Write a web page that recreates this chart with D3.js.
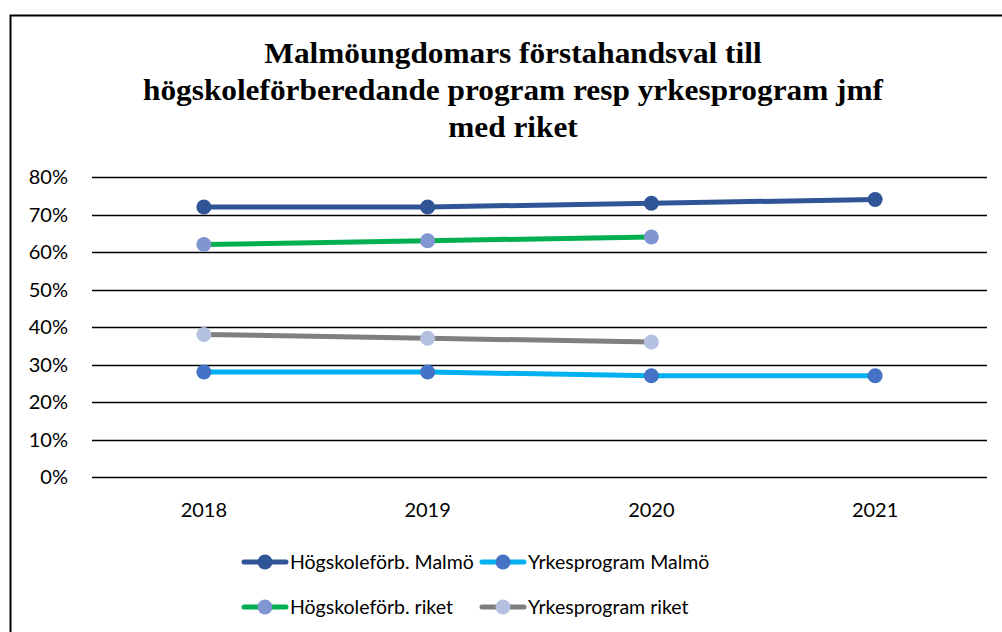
<!DOCTYPE html>
<html>
<head>
<meta charset="utf-8">
<script src="https://cdn.jsdelivr.net/npm/d3@7"></script>
<style>
  body { margin: 0; background: #fff; }
  svg text { fill: #000; }
  .tick-label { font-family: Lato, "Liberation Sans", sans-serif; font-size: 20px; }
  .legend-label { font-family: Lato, "Liberation Sans", sans-serif; font-size: 19.5px; }
  .chart-title { font-family: "Liberation Serif", "DejaVu Serif", serif; font-weight: bold; font-size: 29px; }
</style>
</head>
<body>
<svg id="chart" width="1002" height="632"></svg>
<script>
// data
const years = ['2018', '2019', '2020', '2021']
const hogskoleMalmo = [0.72, 0.72, 0.73, 0.74]
const yrkesMalmo = [0.28, 0.28, 0.27, 0.27]
const hogskoleRiket = [0.62, 0.63, 0.64]
const yrkesRiket = [0.38, 0.37, 0.36]
const yTicks = [0, 0.1, 0.2, 0.3, 0.4, 0.5, 0.6, 0.7, 0.8]
const titleLines = [
  'Malmöungdomars förstahandsval till',
  'högskoleförberedande program resp yrkesprogram jmf',
  'med riket'
]

const series = [
  { name: 'Högskoleförb. Malmö', values: hogskoleMalmo, line: '#2F5597', dot: '#2F5597' },
  { name: 'Yrkesprogram Malmö', values: yrkesMalmo, line: '#00B0F0', dot: '#4472C4' },
  { name: 'Högskoleförb. riket', values: hogskoleRiket, line: '#00B050', dot: '#7F96D0' },
  { name: 'Yrkesprogram riket', values: yrkesRiket, line: '#7F7F7F', dot: '#B4C1E1' }
]

const svg = d3.select('#chart')

// outer frame (continues past the picture edge)
svg.append('path')
  .attr('d', 'M10.5,640 L10.5,15.5 L1010,15.5')
  .attr('fill', 'none')
  .attr('stroke', '#000')
  .attr('stroke-width', 2)

// title - the original font (Garamond) runs wider, so stretch to its width
const title = svg.append('g').attr('class', 'chart-title')
const titleTexts = titleLines.map((t, i) => title.append('text')
  .attr('x', 513)
  .attr('y', 63 + i * 37)
  .attr('text-anchor', 'middle')
  .text(t))
const stretch = 740 / titleTexts[1].node().getComputedTextLength()
titleTexts.forEach(t => {
  t.attr('textLength', t.node().getComputedTextLength() * stretch)
    .attr('lengthAdjust', 'spacingAndGlyphs')
})

const x = d3.scaleBand().domain(years).range([92, 987])
const y = d3.scaleLinear().domain([0, 0.8]).range([477, 177])

// gridlines
svg.append('g')
  .selectAll('line')
  .data(yTicks)
  .join('line')
  .attr('x1', 92)
  .attr('x2', 987)
  .attr('y1', d => Math.round(y(d)) + 0.5)
  .attr('y2', d => Math.round(y(d)) + 0.5)
  .attr('stroke', '#000')
  .attr('stroke-width', 1.7)

// y labels
svg.append('g')
  .selectAll('text')
  .data(yTicks)
  .join('text')
  .attr('class', 'tick-label')
  .attr('x', 68)
  .attr('y', d => y(d))
  .attr('dy', '0.35em')
  .attr('text-anchor', 'end')
  .text(d3.format('.0%'))

// x labels
svg.append('g')
  .selectAll('text')
  .data(years)
  .join('text')
  .attr('class', 'tick-label')
  .attr('x', d => x(d) + x.bandwidth() / 2)
  .attr('y', 517)
  .attr('text-anchor', 'middle')
  .text(d => d)

const line = d3.line()
  .x((d, i) => x(years[i]) + x.bandwidth() / 2)
  .y(d => y(d))

const plot = svg.append('g')
series.forEach(s => {
  plot.append('path')
    .datum(s.values)
    .attr('d', line)
    .attr('fill', 'none')
    .attr('stroke', s.line)
    .attr('stroke-width', 5)
    .attr('stroke-linecap', 'round')
})
series.forEach(s => {
  plot.selectAll(null)
    .data(s.values)
    .join('circle')
    .attr('cx', (d, i) => x(years[i]) + x.bandwidth() / 2)
    .attr('cy', d => y(d))
    .attr('r', 7.5)
    .attr('fill', s.dot)
})

// legend
const legendPos = [[244, 562], [482, 562], [244, 607], [482, 607]]
const legend = svg.append('g')
series.forEach((s, i) => {
  const g = legend.append('g').attr('transform', `translate(${legendPos[i][0]},${legendPos[i][1]})`)
  g.append('line')
    .attr('x1', 0).attr('x2', 42)
    .attr('stroke', s.line)
    .attr('stroke-width', 5)
    .attr('stroke-linecap', 'round')
  g.append('circle')
    .attr('cx', 21)
    .attr('r', 7.5)
    .attr('fill', s.dot)
  g.append('text')
    .attr('class', 'legend-label')
    .attr('x', 46)
    .attr('dy', '0.35em')
    .text(s.name)
})
</script>
</body>
</html>
